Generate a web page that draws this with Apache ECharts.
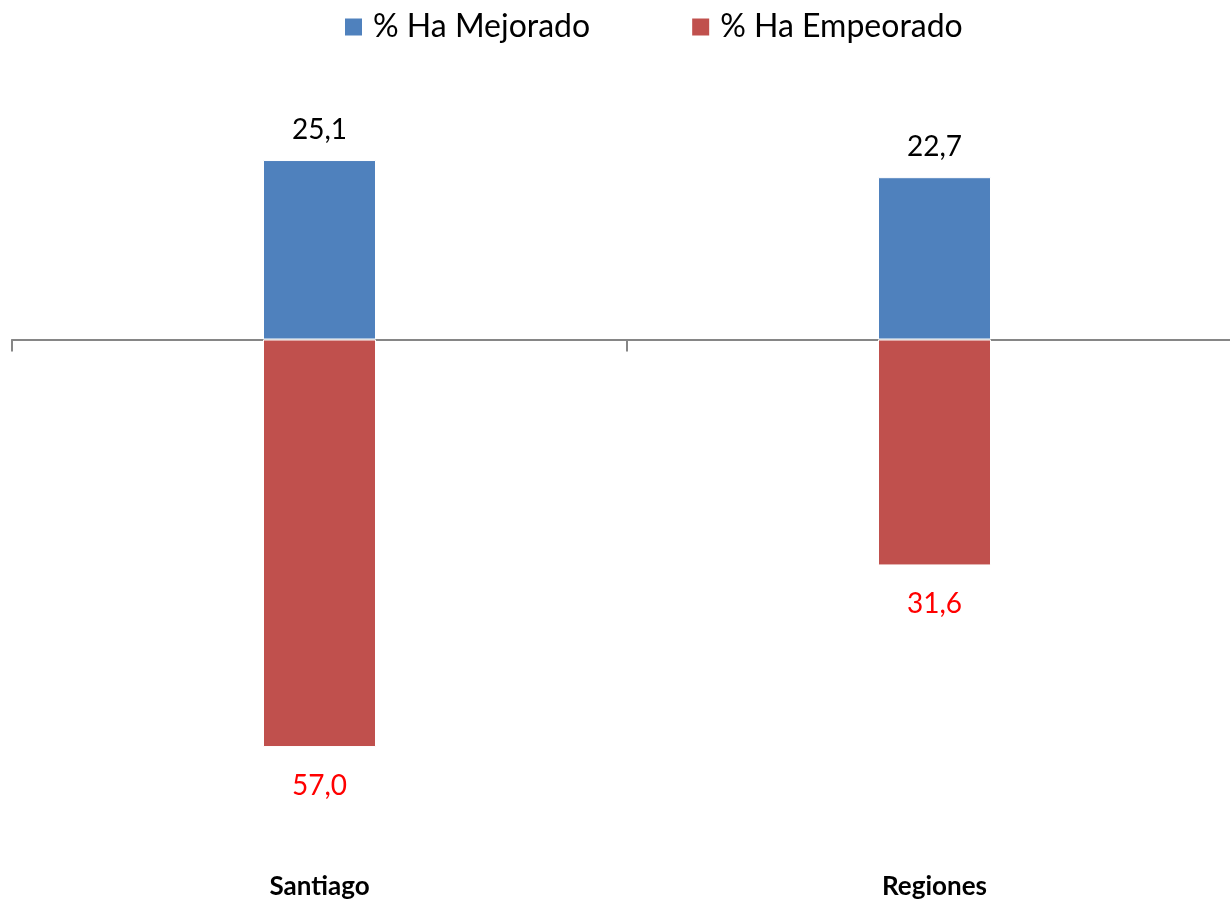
<!DOCTYPE html>
<html>
<head>
<meta charset="utf-8">
<title>Ha Mejorado / Ha Empeorado</title>
<script src="https://cdn.jsdelivr.net/npm/echarts@6/dist/echarts.min.js"></script>
<style>
  html, body { margin: 0; padding: 0; background: #fff; overflow: hidden; }
  /* el eje sigue hasta fuera del borde derecho, por eso 1242 */
  #chart { width: 1242px; height: 907px; }
</style>
</head>
<body>
<div id="chart"></div>
<script>
// datos
const categorias = ['Santiago', 'Regiones']
const mejorado = [25.1, 22.7]
const empeorado = [-57.0, -31.6]

const FONT = 'Lato, "Open Sans", sans-serif'

// formato con coma decimal, sin signo
const fmt = p => Math.abs(p.value).toFixed(1).replace('.', ',')

const chart = echarts.init(document.getElementById('chart'))

chart.setOption({
  animation: false,
  backgroundColor: '#fff',
  legend: {
    top: 6,
    left: 338,
    itemWidth: 19,
    itemHeight: 19,
    itemGap: 100,
    icon: 'rect',
    textStyle: { fontFamily: FONT, fontSize: 32, color: '#000', padding: [0, 0, 0, 5] },
    data: ['% Ha Mejorado', '% Ha Empeorado']
  },
  grid: { left: 12, right: 0, top: 53.5, height: 786.5, containLabel: false },
  xAxis: [
    {
      type: 'category',
      data: categorias,
      axisLine: { onZero: true, lineStyle: { color: '#868686', width: 2 } },
      axisTick: { show: true, length: 12, lineStyle: { color: '#868686', width: 2 } },
      axisLabel: { show: false }
    },
    {
      type: 'category',
      data: categorias,
      position: 'bottom',
      axisLine: { show: false, onZero: false },
      axisTick: { show: false },
      axisLabel: { fontFamily: FONT, fontSize: 26, fontWeight: 'bold', color: '#000', margin: 34 }
    }
  ],
  yAxis: {
    type: 'value',
    min: -70,
    max: 40,
    show: false,
    splitLine: { show: false }
  },
  series: [
    {
      name: '% Ha Mejorado',
      type: 'bar',
      stack: 'total',
      barWidth: 113,
      data: mejorado,
      itemStyle: { color: '#4F81BD', borderColor: '#ffffff', borderWidth: 1 },
      label: {
        show: true,
        position: 'top',
        distance: 16,
        formatter: fmt,
        fontFamily: FONT,
        fontSize: 28,
        color: '#000'
      }
    },
    {
      name: '% Ha Empeorado',
      type: 'bar',
      stack: 'total',
      barWidth: 113,
      data: empeorado,
      itemStyle: { color: '#C0504D', borderColor: '#ffffff', borderWidth: 1 },
      label: {
        show: true,
        position: 'bottom',
        distance: 25,
        formatter: fmt,
        fontFamily: FONT,
        fontSize: 28,
        color: '#FF0000'
      }
    }
  ]
})
</script>
</body>
</html>
